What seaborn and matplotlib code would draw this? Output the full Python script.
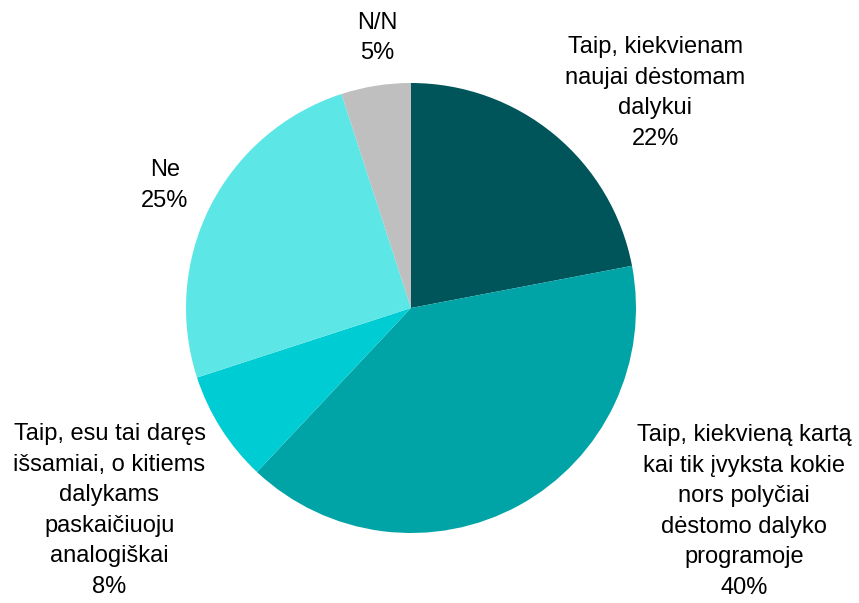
import matplotlib
matplotlib.use("Agg")
import matplotlib.pyplot as plt
import seaborn as sns

categories = [
    "Taip, kiekvienam\nnaujai dėstomam\ndalykui",
    "Taip, kiekvieną kartą\nkai tik įvyksta kokie\nnors polyčiai\ndėstomo dalyko\nprogramoje",
    "Taip, esu tai daręs\nišsamiai, o kitiems\ndalykams\npaskaičiuoju\nanalogiškai",
    "Ne",
    "N/N",
]
shares = [22, 40, 8, 25, 5]
colors = ["#00555A", "#00A3A6", "#00CDD3", "#5CE6E6", "#BFBFBF"]

# label block centres (data units, radius = 1)
label_pos = [(1.085, 0.955), (1.48, -0.905), (-1.34, -0.9), (-1.095, 0.545), (-0.15, 1.2)]

sns.set_theme(style="white")
plt.rcParams["font.family"] = ["Liberation Sans", "DejaVu Sans"]

fig = plt.figure(figsize=(8.59, 6.03), dpi=100)
ax = fig.add_axes([0, 0, 1, 1])
cx, cy, r = 411, 308, 225

ax.pie(shares, colors=colors, startangle=90, counterclock=False, radius=1,
       wedgeprops=dict(linewidth=0), frame=True)
ax.set_xlim(-cx / r, (859 - cx) / r)
ax.set_ylim(-(603 - cy) / r, cy / r)
ax.set_aspect("equal")
ax.axis("off")

for name, val, (x, y) in zip(categories, shares, label_pos):
    ax.text(x, y, f"{name}\n{val}%", ha="center", va="center", fontsize=17,
            color="#000000", linespacing=1.5)

fig.savefig("out.png", dpi=100)
